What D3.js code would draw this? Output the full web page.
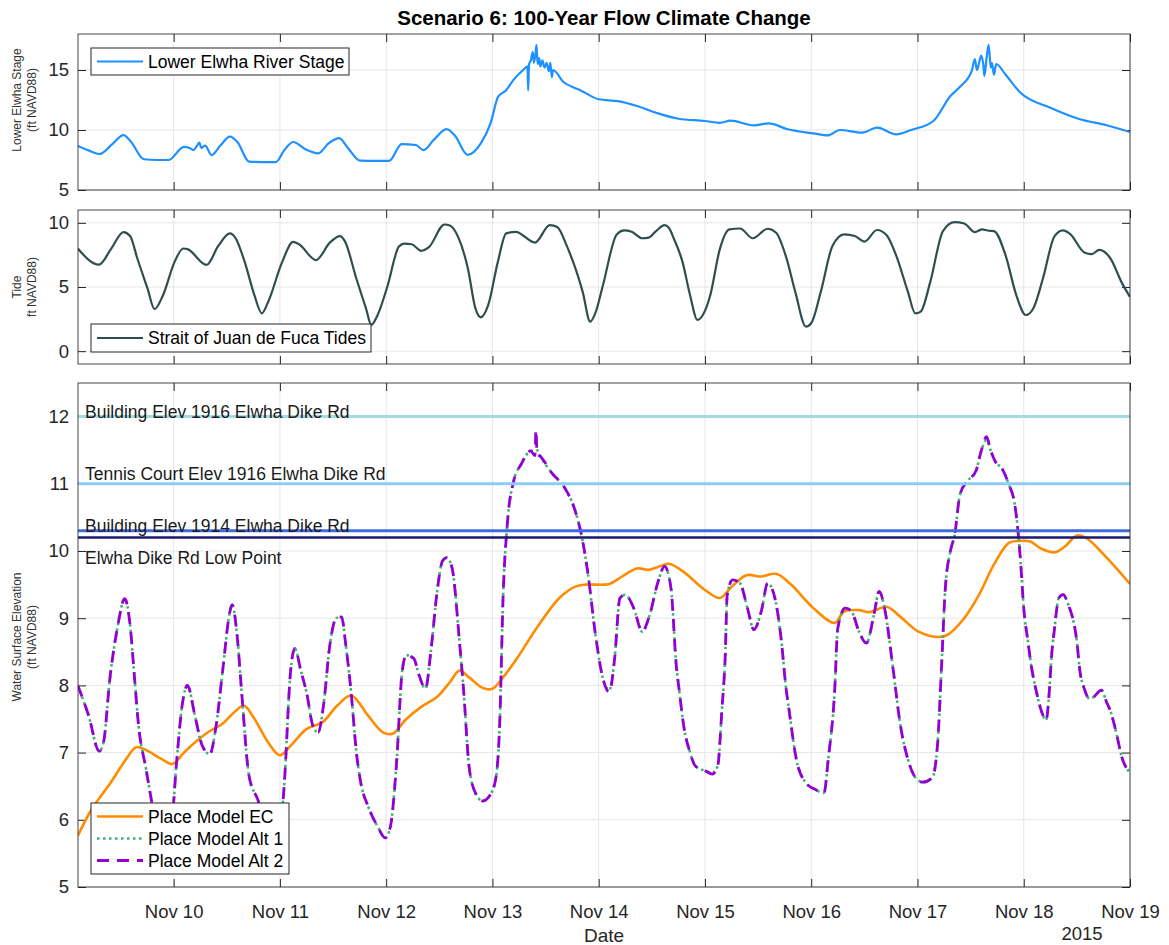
<!DOCTYPE html>
<html><head><meta charset="utf-8">
<script src="https://cdn.jsdelivr.net/npm/d3@7"></script>
<style>
body{margin:0;background:#fff;}
svg{display:block;font-family:"Liberation Sans",Arial,sans-serif;}
</style></head><body>
<svg id="c" width="1169" height="945"></svg>
<script>
// ---- DATA (day offset from 2015-11-09 00:00, value ft NAVD88) ----
const startDay = 0.1, endDay = 10;
const xTickDays = [1,2,3,4,5,6,7,8,9,10];
const stage = [[0.098,8.67],[0.2,8.3],[0.304,8.0],[0.42,8.8],[0.528,9.58],[0.6,9.0],[0.72,7.56],[0.85,7.5],[0.953,7.5],[1.097,8.6],[1.15,8.5],[1.188,8.33],[1.22,8.7],[1.242,8.94],[1.26,8.5],[1.296,8.7],[1.357,7.9],[1.44,8.7],[1.53,9.44],[1.6,9.0],[1.71,7.36],[1.85,7.33],[1.963,7.33],[2.04,8.3],[2.125,9.0],[2.24,8.4],[2.36,8.06],[2.46,8.9],[2.558,9.33],[2.64,8.5],[2.756,7.44],[2.9,7.42],[3.027,7.42],[3.146,8.83],[3.279,8.75],[3.351,8.33],[3.45,9.2],[3.568,10.08],[3.65,9.5],[3.766,7.92],[3.892,8.9],[3.982,10.55],[4.054,12.78],[4.127,13.3],[4.2,14.2],[4.289,15.0],[4.33,15.3],[4.336,13.3],[4.345,15.5],[4.361,15.8],[4.38,16.5],[4.39,15.6],[4.405,16.3],[4.415,17.1],[4.425,15.5],[4.44,16.0],[4.451,15.3],[4.47,15.8],[4.49,15.2],[4.51,15.6],[4.53,14.9],[4.545,15.6],[4.559,14.4],[4.57,15.0],[4.668,14.0],[4.776,13.5],[4.83,13.3],[5.0,12.56],[5.18,12.4],[5.36,12.0],[5.54,11.44],[5.75,10.94],[6.0,10.75],[6.14,10.6],[6.24,10.78],[6.46,10.39],[6.6,10.55],[6.78,10.06],[7.02,9.72],[7.16,9.56],[7.27,10.0],[7.48,9.78],[7.62,10.2],[7.8,9.64],[7.94,10.0],[8.15,10.75],[8.31,12.83],[8.4,13.6],[8.51,14.9],[8.54,15.9],[8.56,15.0],[8.6,16.2],[8.62,15.4],[8.63,14.5],[8.65,16.0],[8.67,17.1],[8.69,15.2],[8.7,15.6],[8.72,14.6],[8.74,15.5],[8.83,14.6],[8.97,13.1],[9.25,11.86],[9.53,10.9],[9.78,10.4],[10.0,9.83]];
const tide = [[0.098,8.0],[0.297,6.74],[0.41,7.95],[0.528,9.28],[0.59,8.97],[0.66,7.18],[0.755,4.87],[0.82,3.28],[0.9,4.36],[1.007,6.92],[1.09,8.0],[1.13,7.95],[1.31,6.72],[1.42,8.2],[1.53,9.18],[1.58,8.85],[1.67,6.92],[1.76,4.36],[1.83,2.95],[1.89,3.85],[2.02,6.92],[2.125,8.51],[2.18,8.33],[2.34,7.1],[2.47,8.46],[2.565,8.97],[2.61,8.59],[2.72,5.64],[2.81,3.33],[2.86,2.05],[2.92,2.82],[3.01,5.0],[3.12,8.15],[3.17,8.38],[3.24,8.33],[3.33,7.82],[3.4,8.08],[3.55,9.87],[3.6,9.79],[3.68,8.85],[3.77,6.41],[3.84,3.33],[3.89,2.64],[3.96,3.59],[4.05,6.92],[4.13,9.18],[4.22,9.3],[4.4,8.46],[4.54,9.82],[4.61,9.67],[4.7,8.2],[4.85,4.6],[4.92,2.3],[4.97,3.0],[5.04,5.13],[5.17,9.1],[5.24,9.41],[5.31,9.3],[5.41,8.8],[5.47,8.85],[5.54,9.36],[5.62,9.82],[5.66,9.62],[5.71,8.72],[5.79,6.92],[5.86,4.36],[5.93,2.44],[5.98,2.82],[6.05,4.36],[6.14,7.95],[6.23,9.49],[6.33,9.56],[6.45,8.8],[6.59,9.54],[6.67,9.23],[6.76,7.44],[6.85,4.62],[6.95,1.92],[7.0,2.18],[7.09,4.62],[7.2,8.2],[7.31,9.1],[7.41,8.97],[7.5,8.54],[7.62,9.44],[7.71,9.03],[7.8,7.44],[7.91,4.62],[7.98,2.95],[8.03,3.08],[8.12,5.38],[8.24,9.36],[8.35,10.05],[8.44,9.95],[8.54,9.28],[8.61,9.49],[8.66,9.4],[8.72,9.36],[8.83,7.44],[8.93,4.36],[9.02,2.82],[9.09,3.33],[9.18,5.64],[9.29,8.97],[9.37,9.41],[9.44,9.1],[9.57,7.69],[9.64,7.56],[9.71,7.9],[9.82,7.18],[9.92,5.38],[10.0,4.23]];
const modelEC = [[0.098,5.76],[0.23,6.16],[0.41,6.56],[0.556,6.91],[0.647,7.08],[0.737,7.04],[0.88,6.91],[0.99,6.83],[1.097,7.0],[1.2,7.15],[1.33,7.31],[1.46,7.43],[1.57,7.6],[1.66,7.7],[1.75,7.53],[1.89,7.15],[2.0,6.96],[2.1,7.1],[2.25,7.35],[2.4,7.45],[2.54,7.7],[2.67,7.85],[2.83,7.55],[2.97,7.3],[3.06,7.28],[3.19,7.5],[3.33,7.68],[3.48,7.83],[3.6,8.05],[3.69,8.22],[3.78,8.12],[3.91,7.96],[4.0,7.95],[4.09,8.1],[4.23,8.4],[4.415,8.85],[4.63,9.3],[4.78,9.47],[4.88,9.5],[5.1,9.51],[5.22,9.62],[5.36,9.74],[5.47,9.72],[5.54,9.75],[5.66,9.81],[5.79,9.7],[6.0,9.42],[6.14,9.3],[6.24,9.45],[6.39,9.64],[6.53,9.62],[6.67,9.66],[6.81,9.5],[7.02,9.15],[7.22,8.93],[7.31,9.1],[7.45,9.12],[7.55,9.09],[7.71,9.17],[7.84,9.02],[8.01,8.8],[8.21,8.72],[8.28,8.75],[8.44,9.0],[8.58,9.35],[8.72,9.8],[8.86,10.12],[8.95,10.15],[9.06,10.14],[9.16,10.04],[9.29,9.98],[9.39,10.07],[9.5,10.23],[9.59,10.19],[9.78,9.9],[10.0,9.51]];
const modelAlt1 = [[0.098,8.0],[0.2,7.55],[0.3,7.02],[0.34,7.15],[0.4,8.1],[0.47,8.85],[0.54,9.29],[0.59,8.9],[0.63,8.15],[0.67,7.4],[0.74,6.76],[0.79,6.3],[0.86,5.7],[0.93,5.6],[0.98,5.9],[1.03,6.9],[1.08,7.7],[1.13,8.0],[1.2,7.55],[1.27,7.1],[1.34,6.98],[1.4,7.4],[1.46,8.2],[1.53,9.1],[1.55,9.2],[1.6,8.7],[1.64,7.9],[1.71,6.65],[1.8,6.26],[1.88,5.7],[1.95,5.5],[2.0,5.8],[2.04,6.5],[2.1,8.2],[2.14,8.55],[2.2,8.2],[2.25,7.9],[2.31,7.4],[2.36,7.3],[2.41,7.7],[2.47,8.6],[2.53,9.0],[2.58,9.02],[2.62,8.6],[2.67,7.9],[2.72,7.0],[2.76,6.56],[2.83,6.2],[2.92,5.9],[2.99,5.73],[3.04,5.9],[3.1,6.9],[3.15,8.2],[3.19,8.45],[3.26,8.4],[3.31,8.15],[3.37,7.95],[3.42,8.5],[3.48,9.4],[3.53,9.85],[3.57,9.9],[3.62,9.75],[3.69,8.65],[3.73,7.9],[3.78,6.8],[3.84,6.4],[3.91,6.28],[3.97,6.35],[4.03,6.6],[4.07,7.5],[4.1,9.3],[4.14,10.4],[4.2,11.04],[4.27,11.29],[4.36,11.49],[4.42,11.5],[4.45,11.41],[4.56,11.16],[4.68,10.94],[4.77,10.64],[4.85,10.14],[4.9,9.65],[4.97,8.75],[5.04,8.1],[5.1,7.93],[5.15,8.4],[5.2,9.3],[5.25,9.35],[5.33,9.15],[5.41,8.8],[5.48,9.05],[5.56,9.55],[5.62,9.77],[5.68,9.45],[5.73,8.3],[5.76,7.9],[5.8,7.4],[5.86,7.0],[5.91,6.8],[6.0,6.73],[6.07,6.7],[6.12,6.8],[6.16,7.65],[6.19,8.4],[6.21,9.35],[6.26,9.57],[6.33,9.52],[6.4,9.15],[6.46,8.83],[6.53,9.1],[6.59,9.52],[6.65,9.35],[6.72,8.65],[6.76,8.0],[6.79,7.65],[6.86,6.9],[6.95,6.55],[7.04,6.45],[7.12,6.4],[7.16,6.9],[7.22,7.9],[7.25,8.85],[7.32,9.15],[7.38,9.1],[7.45,8.8],[7.52,8.63],[7.59,9.05],[7.64,9.4],[7.69,9.15],[7.77,8.25],[7.84,7.4],[7.91,6.9],[7.98,6.63],[8.05,6.56],[8.14,6.63],[8.19,7.15],[8.23,8.4],[8.26,9.4],[8.31,10.0],[8.35,10.24],[8.4,10.84],[8.47,11.04],[8.55,11.19],[8.6,11.49],[8.65,11.65],[8.69,11.49],[8.74,11.31],[8.79,11.24],[8.86,10.99],[8.91,10.74],[8.94,10.39],[8.97,9.85],[9.0,9.15],[9.04,8.65],[9.07,8.3],[9.12,7.9],[9.17,7.6],[9.21,7.48],[9.24,7.9],[9.26,8.4],[9.29,8.85],[9.33,9.3],[9.37,9.35],[9.42,9.2],[9.5,8.65],[9.53,8.2],[9.57,7.95],[9.62,7.8],[9.66,7.83],[9.73,7.93],[9.78,7.75],[9.82,7.6],[9.87,7.3],[9.92,6.95],[10.0,6.7]];
const modelAlt2 = [[0.098,8.0],[0.2,7.55],[0.3,7.02],[0.34,7.15],[0.4,8.1],[0.47,8.85],[0.54,9.29],[0.59,8.9],[0.63,8.15],[0.67,7.4],[0.74,6.76],[0.79,6.3],[0.86,5.7],[0.93,5.6],[0.98,5.9],[1.03,6.9],[1.08,7.7],[1.13,8.0],[1.2,7.55],[1.27,7.1],[1.34,6.98],[1.4,7.4],[1.46,8.2],[1.53,9.1],[1.55,9.2],[1.6,8.7],[1.64,7.9],[1.71,6.65],[1.8,6.26],[1.88,5.7],[1.95,5.5],[2.0,5.8],[2.04,6.5],[2.1,8.2],[2.14,8.55],[2.2,8.2],[2.25,7.9],[2.31,7.4],[2.36,7.3],[2.41,7.7],[2.47,8.6],[2.53,9.0],[2.58,9.02],[2.62,8.6],[2.67,7.9],[2.72,7.0],[2.76,6.56],[2.83,6.2],[2.92,5.9],[2.99,5.73],[3.04,5.9],[3.1,6.9],[3.15,8.2],[3.19,8.45],[3.26,8.4],[3.31,8.15],[3.37,7.95],[3.42,8.5],[3.48,9.4],[3.53,9.85],[3.57,9.9],[3.62,9.75],[3.69,8.65],[3.73,7.9],[3.78,6.8],[3.84,6.4],[3.91,6.28],[3.97,6.35],[4.03,6.6],[4.07,7.5],[4.1,9.3],[4.14,10.4],[4.2,11.04],[4.27,11.29],[4.36,11.49],[4.40,11.42],[4.41,11.8],[4.42,11.45],[4.45,11.41],[4.56,11.16],[4.68,10.94],[4.77,10.64],[4.85,10.14],[4.9,9.65],[4.97,8.75],[5.04,8.1],[5.1,7.9],[5.15,8.4],[5.2,9.3],[5.25,9.35],[5.33,9.15],[5.41,8.8],[5.48,9.05],[5.56,9.55],[5.62,9.77],[5.68,9.45],[5.73,8.3],[5.76,7.9],[5.8,7.4],[5.86,7.0],[5.91,6.8],[6.0,6.73],[6.07,6.68],[6.12,6.8],[6.16,7.65],[6.19,8.4],[6.21,9.35],[6.26,9.57],[6.33,9.52],[6.4,9.15],[6.46,8.83],[6.53,9.1],[6.59,9.52],[6.65,9.35],[6.72,8.65],[6.76,8.0],[6.79,7.65],[6.86,6.9],[6.95,6.55],[7.04,6.45],[7.12,6.4],[7.16,6.9],[7.22,7.9],[7.25,8.85],[7.32,9.15],[7.38,9.1],[7.45,8.8],[7.52,8.63],[7.59,9.05],[7.64,9.4],[7.69,9.15],[7.77,8.25],[7.84,7.4],[7.91,6.9],[7.98,6.63],[8.05,6.56],[8.14,6.63],[8.19,7.15],[8.23,8.4],[8.26,9.4],[8.31,10.0],[8.35,10.24],[8.4,10.84],[8.47,11.04],[8.55,11.19],[8.6,11.49],[8.65,11.7],[8.69,11.49],[8.74,11.31],[8.79,11.24],[8.86,10.99],[8.91,10.74],[8.94,10.39],[8.97,9.85],[9.0,9.15],[9.04,8.65],[9.07,8.3],[9.12,7.9],[9.17,7.6],[9.21,7.48],[9.24,7.9],[9.26,8.4],[9.29,8.85],[9.33,9.3],[9.37,9.35],[9.42,9.2],[9.5,8.65],[9.53,8.2],[9.57,7.95],[9.62,7.8],[9.66,7.83],[9.73,7.93],[9.78,7.75],[9.82,7.6],[9.87,7.3],[9.92,6.95],[10.0,6.7]];
const refLevels = [12, 11, 10.3, 10.2];
const refLabels = ["Building Elev 1916 Elwha Dike Rd","Tennis Court Elev 1916 Elwha Dike Rd","Building Elev 1914 Elwha Dike Rd","Elwha Dike Rd Low Point"];
const refLabelLevels = [11.985, 11.05, 10.285, 9.8];
const refColors = ["#a4dbe0","#8ccdf7","#4169e1","#191970"];
const stageTicks = [5,10,15], tideTicks = [0,5,10], wseTicks = [5,6,7,8,9,10,11,12];

// ---- LAYOUT ----
const svg = d3.select("#c");
const L = 78, R = 1130;
const base = Date.UTC(2015,10,9);
const toDate = d => new Date(base + d*86400000);
const x = d3.scaleUtc().domain([toDate(startDay), toDate(endDay)]).range([L, R]);
const fmt = d3.utcFormat("%b %d");
const axisCol = "#262626", gridCol = "#e6e6e6";
const tickFont = 18.5;

function panel(top, bottom, dom, ticks, showX){
  const y = d3.scaleLinear().domain(dom).range([bottom, top]);
  const g = svg.append("g");
  g.append("g").selectAll("line").data(xTickDays).join("line")
    .attr("x1", d=>x(toDate(d))).attr("x2", d=>x(toDate(d))).attr("y1", top).attr("y2", bottom)
    .attr("stroke", gridCol).attr("stroke-width",1);
  g.append("g").selectAll("line").data(ticks).join("line")
    .attr("x1", L).attr("x2", R).attr("y1", d=>y(d)).attr("y2", d=>y(d))
    .attr("stroke", gridCol).attr("stroke-width",1);
  const tl = 8;
  const fmtX = d => fmt(d).replace(/ 0/," ");
  const ax = d3.axisBottom(x).tickValues(xTickDays.map(toDate)).tickSizeInner(-tl).tickSizeOuter(0).tickFormat(showX? fmtX : "");
  const axT = d3.axisTop(x).tickValues(xTickDays.map(toDate)).tickSizeInner(-tl).tickSizeOuter(0).tickFormat("");
  const ayL = d3.axisLeft(y).tickValues(ticks).tickSizeInner(-tl).tickSizeOuter(0).tickFormat(d3.format("d"));
  const ayR = d3.axisRight(y).tickValues(ticks).tickSizeInner(-tl).tickSizeOuter(0).tickFormat("");
  const style = sel => { sel.select(".domain").remove(); sel.selectAll("line").attr("stroke",axisCol);
     sel.selectAll("text").attr("fill",axisCol).attr("font-size",tickFont).attr("font-family","Liberation Sans, Arial, sans-serif"); };
  g.append("g").attr("transform",`translate(0,${bottom})`).call(ax).call(style).selectAll("text").attr("dy","1.52em");
  g.append("g").attr("transform",`translate(0,${top})`).call(axT).call(style);
  g.append("g").attr("transform",`translate(${L},0)`).call(ayL).call(style).selectAll("text").attr("x",-9);
  g.append("g").attr("transform",`translate(${R},0)`).call(ayR).call(style);
  const plot = svg.append("g");
  svg.append("rect").attr("x",L).attr("y",top).attr("width",R-L).attr("height",bottom-top)
    .attr("fill","none").attr("stroke",axisCol).attr("stroke-width",1).attr("stroke-opacity",0.85);
  return {y, plot, top, bottom};
}

function clipFor(p, n){
  svg.append("clipPath").attr("id","clip"+n).append("rect").attr("x",L).attr("y",p.top).attr("width",R-L).attr("height",p.bottom-p.top);
  return `url(#clip${n})`;
}
function lineGen(y, curve){ return d3.line().x(d=>x(toDate(d[0]))).y(d=>y(d[1])).curve(curve); }

// Title
svg.append("text").attr("x",(L+R)/2).attr("y",25).attr("text-anchor","middle")
  .attr("font-weight","bold").attr("font-size",20.5).attr("fill","#000")
  .text("Scenario 6: 100-Year Flow Climate Change");

// Panel 1
const p1 = panel(34, 190, [5,18], stageTicks, false);
p1.plot.attr("clip-path", clipFor(p1,1)).append("path").datum(stage)
  .attr("d", lineGen(p1.y, d3.curveMonotoneX)).attr("fill","none").attr("stroke","#1e90ff").attr("stroke-width",2.2);

// Panel 2
const p2 = panel(210, 364, [-1,11], tideTicks, false);
p2.plot.attr("clip-path", clipFor(p2,2)).append("path").datum(tide)
  .attr("d", lineGen(p2.y, d3.curveMonotoneX)).attr("fill","none").attr("stroke","#2f4f4f").attr("stroke-width",2.2);

// Panel 3
const p3 = panel(383, 887, [5,12.5], wseTicks, true);
const pl3 = p3.plot.attr("clip-path", clipFor(p3,3));
pl3.append("path").datum(modelEC).attr("d", lineGen(p3.y, d3.curveCatmullRom)).attr("fill","none")
  .attr("stroke","#ff8c00").attr("stroke-width",2.6);
pl3.append("path").datum(modelAlt1).attr("d", lineGen(p3.y, d3.curveMonotoneX)).attr("fill","none")
  .attr("stroke","#3cb371").attr("stroke-width",2.6).attr("stroke-dasharray","2.5,3.5");
pl3.append("path").datum(modelAlt2).attr("d", lineGen(p3.y, d3.curveMonotoneX)).attr("fill","none")
  .attr("stroke","#9400d3").attr("stroke-width",2.8).attr("stroke-dasharray","12,8");
pl3.selectAll(".ref").data(refLevels).join("line").attr("class","ref")
  .attr("x1",L).attr("x2",R).attr("y1",d=>p3.y(d)).attr("y2",d=>p3.y(d))
  .attr("stroke",(d,i)=>refColors[i]).attr("stroke-width",(d,i)=> i===3 ? 2.6 : 3);
pl3.selectAll(".reflab").data(refLabelLevels).join("text").attr("class","reflab")
  .attr("x", L+7).attr("y", d=>p3.y(d))
  .attr("font-size",17.5).attr("fill","#1a1a1a").text((d,i)=>refLabels[i]);

// Legends
function legend(xp, yp, w, rowH, items){
  const g = svg.append("g").attr("transform",`translate(${xp},${yp})`);
  g.append("rect").attr("width",w).attr("height",rowH*items.length+5).attr("fill","#fff").attr("stroke",axisCol).attr("stroke-width",1);
  items.forEach((it,i)=>{
    const cy = 2.5 + rowH*i + rowH/2;
    g.append("line").attr("x1",6).attr("x2",52).attr("y1",cy).attr("y2",cy)
      .attr("stroke",it.c).attr("stroke-width",it.w||2.2).attr("stroke-dasharray",it.dash||null);
    g.append("text").attr("x",57).attr("y",cy+6).attr("font-size",17.5).attr("fill","#000").text(it.t);
  });
}
legend(91, 48, 258, 22, [{t:"Lower Elwha River Stage", c:"#1e90ff"}]);
legend(91, 324, 280, 23, [{t:"Strait of Juan de Fuca Tides", c:"#2f4f4f"}]);
legend(91, 803, 198, 22, [
  {t:"Place Model EC", c:"#ff8c00", w:2.6},
  {t:"Place Model Alt 1", c:"#3cb371", w:2.6, dash:"2.5,3.5"},
  {t:"Place Model Alt 2", c:"#9400d3", w:2.8, dash:"12,8"}]);

// Axis titles
function ylab(cy, lines){
  lines.forEach((t,i)=>{
    svg.append("text").attr("transform",`translate(${21+i*15},${cy}) rotate(-90)`)
      .attr("text-anchor","middle").attr("font-size",12).attr("fill","#333").text(t);
  });
}
ylab(100, ["Lower Elwha Stage","(ft NAVD88)"]);
ylab(287, ["Tide","ft NAVD88)"]);
ylab(637, ["Water Surface Elevation","(ft NAVD88)"]);
svg.append("text").attr("x",(L+R)/2).attr("y",942).attr("text-anchor","middle").attr("font-size",19).attr("fill","#262626").text("Date");
svg.append("text").attr("x",1082).attr("y",940).attr("text-anchor","middle").attr("font-size",18.5).attr("fill","#262626").text("2015");
</script></body></html>
